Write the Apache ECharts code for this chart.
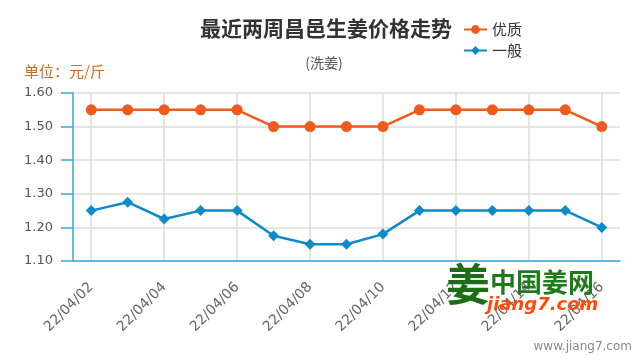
<!DOCTYPE html>
<html><head><meta charset="utf-8">
<script src="https://cdn.jsdelivr.net/npm/echarts@6/dist/echarts.min.js"></script>
<style>html,body{margin:0;padding:0;background:#fff}#c{width:640px;height:360px}</style>
</head><body><div id="c"></div>
<script>
const categories = ['22/04/02','22/04/03','22/04/04','22/04/05','22/04/06','22/04/07','22/04/08','22/04/09','22/04/10','22/04/11','22/04/12','22/04/13','22/04/14','22/04/15','22/04/16'];
const premium = [1.55,1.55,1.55,1.55,1.55,1.50,1.50,1.50,1.50,1.55,1.55,1.55,1.55,1.55,1.50];
const ordinary = [1.25,1.275,1.225,1.25,1.25,1.175,1.15,1.15,1.18,1.25,1.25,1.25,1.25,1.25,1.20];
const seriesNames = ['优质','一般'];
const titleText = '最近两周昌邑生姜价格走势';
const subText = '(洗姜)';
const unitText = '单位：元/斤';

const chart = echarts.init(document.getElementById('c'));
const axisBlue = '#35a9dc';
chart.setOption({
  animation:false,
  textStyle:{fontFamily:'DejaVu Sans'},
  title:[
    {text:titleText,left:321,textAlign:'center',top:13,textStyle:{fontSize:21,fontWeight:'bold',color:'#333',fontFamily:'Noto Sans CJK SC'}},
    {text:subText,left:319,textAlign:'center',top:51,textStyle:{fontSize:14,fontWeight:'normal',color:'#555',fontFamily:'Noto Sans CJK SC'}},
    {text:unitText,left:19,top:59,textStyle:{fontSize:15,fontWeight:'normal',color:'#d06a1a',fontFamily:'Noto Sans CJK SC'}}
  ],
  legend:{orient:'vertical',left:458,top:17,itemWidth:23,itemHeight:11,itemGap:6,
    textStyle:{fontSize:15,color:'#333',fontFamily:'Noto Sans CJK SC'},data:seriesNames},
  grid:{left:73,right:20,top:93,bottom:99},
  xAxis:{type:'category',data:categories,boundaryGap:true,
    axisLine:{lineStyle:{color:axisBlue,width:1.5}},
    axisTick:{alignWithLabel:true,interval:1,length:16,lineStyle:{color:axisBlue,width:1.5}},
    splitLine:{show:true,alignWithLabel:true,interval:1,lineStyle:{color:'#dcdcdc',width:1.5}},
    axisLabel:{interval:1,rotate:45,margin:24,fontSize:14,color:'#666',fontFamily:'DejaVu Sans'}},
  yAxis:{type:'value',min:1.1,max:1.6,interval:0.1,
    axisLine:{show:true,lineStyle:{color:axisBlue,width:1.5}},
    axisTick:{show:true,length:12,lineStyle:{color:axisBlue,width:1.5}},
    splitLine:{lineStyle:{color:'#dcdcdc',width:1.5}},
    axisLabel:{margin:20,fontSize:13,color:'#555',formatter:v=>v.toFixed(2)}},
  series:[
    {name:seriesNames[0],type:'line',data:premium,symbol:'circle',symbolSize:11,
      itemStyle:{color:'#ef5a1f'},lineStyle:{width:2.5,color:'#ef5a1f'}},
    {name:seriesNames[1],type:'line',data:ordinary,symbol:'diamond',symbolSize:11,
      itemStyle:{color:'#0f8ac8'},lineStyle:{width:2.5,color:'#0f8ac8'}}
  ],
  graphic:[
    {type:'text',left:446,top:262,z:100,style:{text:'姜',fontSize:44,fontWeight:'bold',fill:'#1c6e14',fontFamily:'Noto Sans CJK SC'}},
    {type:'text',left:490,top:269,z:100,style:{text:'中国姜网',fontSize:26,fontWeight:'bold',fill:'#1e7a1a',fontFamily:'Noto Sans CJK SC'}},
    {type:'text',left:487,top:296,z:100,style:{text:'jiang7.com',fontSize:18,fontWeight:'bold',fontStyle:'italic',fill:'#ff4a0a',fontFamily:'DejaVu Sans'}},
    {type:'text',right:8,top:341,z:100,style:{text:'www.jiang7.com',fontSize:12,fill:'#888',fontFamily:'DejaVu Sans'}}
  ]
});
</script></body></html>
